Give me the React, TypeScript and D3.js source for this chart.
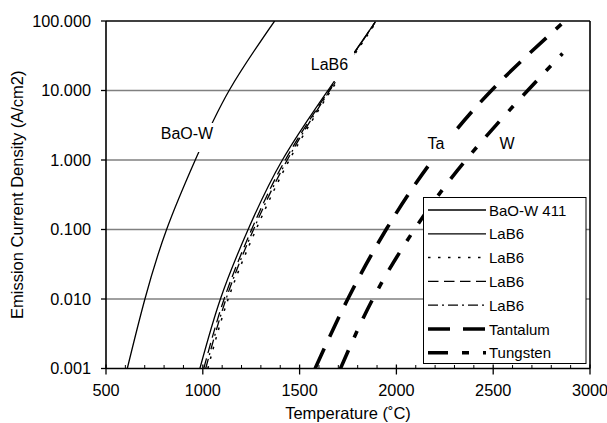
import React from "react";
import * as d3 from "d3";

// Axis ticks
const xMajorTicks = [500, 1000, 1500, 2000, 2500, 3000];
const yDecades = [0.001, 0.01, 0.1, 1, 10, 100];

// Emission curves: temperature (°C) and current density (A/cm2)
const baoTemp = [610, 701, 813, 961, 1136, 1371];
const baoJ = [0.001, 0.01, 0.1, 1, 10, 100];

const lab6SolidTemp = [985, 1091, 1234, 1411, 1646, 1888];
const lab6SolidJ = [0.001, 0.01, 0.1, 1, 10, 94];

const lab6DotTemp = [1026, 1131, 1275, 1447, 1662, 1893];
const lab6DotJ = [0.001, 0.01, 0.1, 1, 10, 94];

const lab6DashTemp = [1005, 1110, 1252, 1426, 1652, 1890];
const lab6DashJ = [0.001, 0.01, 0.1, 1, 10, 96];

const lab6DashDotTemp = [1015, 1120, 1262, 1436, 1656, 1892];
const lab6DashDotJ = [0.001, 0.01, 0.1, 1, 10, 98];

const taTemp = [1580, 1749, 1947, 2187, 2491, 2852];
const taJ = [0.001, 0.01, 0.1, 1, 10, 90];

const wTemp = [1711, 1878, 2093, 2359, 2678, 2858];
const wJ = [0.001, 0.01, 0.1, 1, 10, 34];

const legendNames = ["BaO-W 411", "LaB6", "LaB6", "LaB6", "LaB6", "Tantalum", "Tungsten"];

type Series = { name: string; temps: number[]; values: number[]; width: number; dash: string };

const series: Series[] = [
  { name: legendNames[0], temps: baoTemp, values: baoJ, width: 1.3, dash: "none" },
  { name: legendNames[1], temps: lab6SolidTemp, values: lab6SolidJ, width: 1.3, dash: "none" },
  { name: legendNames[2], temps: lab6DotTemp, values: lab6DotJ, width: 1.5, dash: "2.5,7.5" },
  { name: legendNames[3], temps: lab6DashTemp, values: lab6DashJ, width: 1.3, dash: "10.5,5.5" },
  { name: legendNames[4], temps: lab6DashDotTemp, values: lab6DashDotJ, width: 1.3, dash: "10,4,2,4" },
  { name: legendNames[5], temps: taTemp, values: taJ, width: 3.6, dash: "22,13" },
  { name: legendNames[6], temps: wTemp, values: wJ, width: 3.6, dash: "20,14,7,14" },
];

const W = 607;
const H = 423;
const left = 106;
const right = 590;
const top = 21;
const bottom = 368.5;
const font = "'Liberation Sans', Arial, Helvetica, sans-serif";

export default function App() {
  const x = d3.scaleLinear().domain([500, 3000]).range([left, right]);
  const y = d3.scaleLog().domain([0.001, 100]).range([bottom, top]);
  const line = d3
    .line<[number, number]>()
    .x((d) => x(d[0]))
    .y((d) => y(d[1]))
    .curve(d3.curveNatural);

  const minorTicks = d3.range(500, 3001, 100).filter((t) => t % 500 !== 0);
  const fmt = d3.format(".3f");

  const legX = 423.5;
  const legY = 197.5;
  const legW = 162.5;
  const legH = 166;
  const rowY0 = 210;
  const rowStep = 23.8;

  return (
    <svg
      width={W}
      height={H}
      viewBox={`0 0 ${W} ${H}`}
      style={{ position: "absolute", left: 0, top: 0, background: "#fff" }}
      fontFamily={font}
    >
      <defs>
        <clipPath id="plot-clip">
          <rect x={left} y={top} width={right - left} height={bottom - top} />
        </clipPath>
      </defs>
      <rect x={0} y={0} width={W} height={H} fill="#fff" />

      {/* horizontal gridlines at each decade */}
      {yDecades.slice(1, -1).map((v) => (
        <line key={v} x1={left} x2={right} y1={y(v)} y2={y(v)} stroke="#808080" strokeWidth={1.6} />
      ))}

      {/* curves */}
      <g clipPath="url(#plot-clip)">
        {series.map((s, i) => (
          <path
            key={i}
            d={line(s.temps.map((t, j) => [t, s.values[j]] as [number, number])) || ""}
            fill="none"
            stroke="#000"
            strokeWidth={s.width}
            strokeDasharray={s.dash}
          />
        ))}
      </g>

      {/* curve labels */}
      <rect x={158} y={123} width={57} height={29} fill="#fff" />
      <text x={187} y={139} fontSize={16} textAnchor="middle">BaO-W</text>
      <rect x={306} y={51} width={48} height={30} fill="#fff" />
      <text x={329.5} y={69.5} fontSize={16} textAnchor="middle">LaB6</text>
      <rect x={423} y={131} width={28} height={26} fill="#fff" />
      <text x={436} y={148.5} fontSize={16} textAnchor="middle">Ta</text>
      <rect x={495} y={132} width={25} height={22} fill="#fff" />
      <text x={507} y={148.5} fontSize={16} textAnchor="middle">W</text>

      {/* plot frame */}
      <line x1={left} x2={right} y1={top} y2={top} stroke="#000" strokeWidth={1.6} />
      <line x1={right} x2={right} y1={top} y2={bottom} stroke="#000" strokeWidth={1.6} />
      <line x1={left} x2={left} y1={top} y2={bottom} stroke="#000" strokeWidth={1.6} />
      <line x1={left} x2={right} y1={bottom} y2={bottom} stroke="#000" strokeWidth={1.6} />

      {/* y axis ticks and labels */}
      {yDecades.map((v) => (
        <g key={v}>
          <line x1={left - 5} x2={left} y1={y(v)} y2={y(v)} stroke="#000" strokeWidth={1.3} />
          <text x={91} y={y(v) + 5.5} fontSize={16.3} textAnchor="end">{fmt(v)}</text>
        </g>
      ))}

      {/* x axis ticks and labels */}
      {minorTicks.map((t) => (
        <line key={t} x1={x(t)} x2={x(t)} y1={bottom - 3.5} y2={bottom} stroke="#000" strokeWidth={1} />
      ))}
      {xMajorTicks.map((t) => (
        <g key={t}>
          <line x1={x(t)} x2={x(t)} y1={bottom - 4} y2={bottom + 6} stroke="#000" strokeWidth={1.3} />
          <text x={x(t)} y={396} fontSize={16.3} textAnchor="middle">{t}</text>
        </g>
      ))}

      {/* axis titles */}
      <text x={(left + right) / 2} y={419} fontSize={16.5} textAnchor="middle">Temperature (˚C)</text>
      <text
        transform={`translate(23,${(top + bottom) / 2}) rotate(-90)`}
        fontSize={16.5}
        textAnchor="middle"
      >
        Emission Current Density (A/cm2)
      </text>

      {/* legend */}
      <rect x={legX} y={legY} width={legW} height={legH} fill="#fff" stroke="#000" strokeWidth={1} />
      {series.map((s, i) => {
        const ry = rowY0 + i * rowStep;
        return (
          <g key={i}>
            <line
              x1={428}
              x2={486}
              y1={ry}
              y2={ry}
              stroke="#000"
              strokeWidth={s.width}
              strokeDasharray={s.dash}
            />
            <text x={489} y={ry + 5.5} fontSize={15}>{s.name}</text>
          </g>
        );
      })}
    </svg>
  );
}
